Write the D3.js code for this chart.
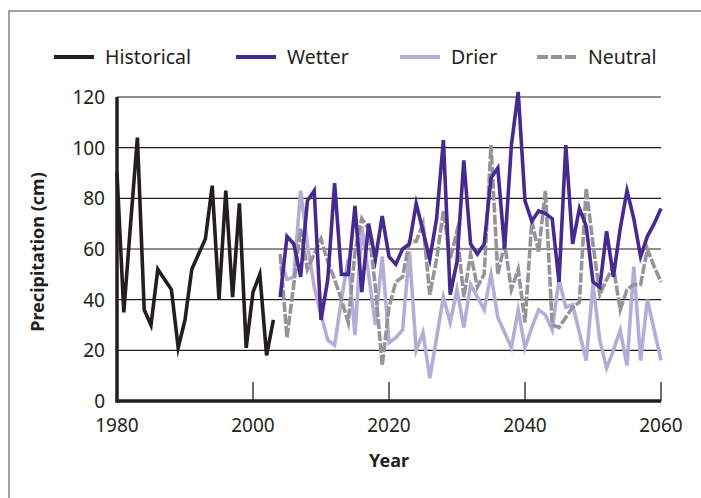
<!DOCTYPE html>
<html>
<head>
<meta charset="utf-8">
<script src="https://cdn.jsdelivr.net/npm/d3@7"></script>
<style>
body { margin: 0; background: #fff; }
svg text { font-family: "Noto Sans", sans-serif; fill: #231f20; }
</style>
</head>
<body>
<svg id="chart" width="701" height="498"></svg>
<script>
/* Precipitation: historical record and three future scenarios */

const historicalYears = d3.range(1980, 2004);
const historical = [90, 35, 70, 104, 36, 30, 52, 48, 44, 21, 32, 52, 58, 64, 85, 40, 83, 41, 78, 21, 43, 50, 18, 32];

const futureYears = d3.range(2004, 2061);
const wetter = [41, 65, 62, 49, 79, 83, 32, 48, 86, 50,
                50, 77, 43, 70, 56, 73, 57, 54, 60, 62,
                78, 67, 56, 72, 103, 42, 55, 95, 62, 58,
                62, 88, 92, 60, 101, 122, 79, 71, 75, 74,
                72, 47, 101, 62, 76, 69, 47, 45, 67, 49,
                68, 83, 72, 57, 65, 70, 76];
const drier = [56, 48, 49, 83, 62, 45, 34, 24, 22, 40,
               56, 26, 69, 50, 30, 57, 23, 25, 28, 59,
               20, 27, 9, 25, 41, 31, 44, 29, 46, 41,
               36, 50, 33, 27, 21, 36, 21, 29, 36, 34,
               28, 48, 37, 38, 27, 16, 46, 24, 13, 20,
               28, 14, 53, 16, 40, 28, 16];
const neutral = [58, 25, 46, 68, 52, 58, 64, 55, 48, 40,
                 31, 59, 72, 68, 45, 14, 37, 47, 49, 63,
                 63, 70, 42, 56, 75, 56, 67, 41, 58, 45,
                 50, 101, 50, 62, 44, 52, 31, 71, 59, 83,
                 30, 29, 33, 37, 39, 84, 62, 42, 48, 53,
                 36, 44, 46, 46, 60, 53, 47];

const xTicks = [1980, 2000, 2020, 2040, 2060];
const yTicks = [0, 20, 40, 60, 80, 100, 120];

const seriesNames = ["Historical", "Wetter", "Drier", "Neutral"];

const styles = {
    Historical: {color: "#231f20", dash: null},
    Wetter: {color: "#452a8f", dash: null},
    Drier: {color: "#b6acd8", dash: null},
    Neutral: {color: "#939598", dash: "10,2"}
};

const svg = d3.select("#chart");

const x = d3.scaleLinear().domain([1980, 2060]).range([117, 661]);
const y = d3.scaleLinear().domain([0, 120]).range([401, 97]);

// outer frame (cut off at right and bottom)
svg.append("rect")
    .attr("x", 9).attr("y", 11)
    .attr("width", 800).attr("height", 600)
    .attr("fill", "none")
    .attr("stroke", "#808285")
    .attr("stroke-width", 1.5);

// gridlines
svg.append("g").attr("class", "grid")
    .selectAll("line")
    .data(yTicks.filter(d => d > 0)).enter()
    .append("line")
    .attr("x1", x(1980)).attr("x2", x(2060))
    .attr("y1", d => y(d)).attr("y2", d => y(d))
    .attr("stroke", "#231f20")
    .attr("stroke-width", 1.1);

// x ticks, pointing up into the plot
svg.append("g")
    .selectAll("line")
    .data(xTicks.slice(1)).enter()
    .append("line")
    .attr("x1", d => x(d)).attr("x2", d => x(d))
    .attr("y1", y(0)).attr("y2", y(0) - 19)
    .attr("stroke", "#231f20")
    .attr("stroke-width", 1.3);

// tick labels
svg.append("g")
    .selectAll("text")
    .data(xTicks).enter()
    .append("text")
    .attr("x", d => x(d))
    .attr("y", 432)
    .attr("text-anchor", "middle")
    .attr("font-size", 19)
    .text(d => d);

svg.append("g")
    .selectAll("text")
    .data(yTicks).enter()
    .append("text")
    .attr("x", 105)
    .attr("y", d => y(d) + 7)
    .attr("text-anchor", "end")
    .attr("font-size", 19)
    .text(d => d);

// axis titles
svg.append("text")
    .attr("x", 389).attr("y", 467)
    .attr("text-anchor", "middle")
    .attr("font-size", 18)
    .attr("font-weight", "bold")
    .text("Year");

svg.append("text")
    .attr("transform", "translate(44,252) rotate(-90)")
    .attr("text-anchor", "middle")
    .attr("font-size", 18)
    .attr("font-weight", "bold")
    .text("Precipitation (cm)");

// data lines
const line = d3.line()
    .x(d => x(d[0]))
    .y(d => y(d[1]))
    .curve(d3.curveLinear);

function drawSeries(name, years, values) {
    svg.append("path")
        .datum(d3.zip(years, values))
        .attr("class", "series")
        .attr("d", line)
        .attr("fill", "none")
        .attr("stroke", styles[name].color)
        .attr("stroke-width", 3.6)
        .attr("stroke-linejoin", "miter")
        .attr("stroke-miterlimit", 6)
        .attr("stroke-dasharray", styles[name].dash);
}

drawSeries("Historical", historicalYears, historical);
drawSeries("Drier", futureYears, drier);
drawSeries("Neutral", futureYears, neutral);
drawSeries("Wetter", futureYears, wetter);

// axis lines on top
svg.append("line")
    .attr("x1", x(1980)).attr("x2", x(1980))
    .attr("y1", y(120)).attr("y2", y(0) + 1.5)
    .attr("stroke", "#231f20").attr("stroke-width", 3.5);
svg.append("line")
    .attr("x1", x(1980) - 1.5).attr("x2", x(2060))
    .attr("y1", y(0)).attr("y2", y(0))
    .attr("stroke", "#231f20").attr("stroke-width", 3.5);

// legend
const legendX = [54, 236, 400, 537];
const legend = svg.append("g").attr("class", "legend")
    .selectAll("g")
    .data(seriesNames).enter()
    .append("g")
    .attr("transform", (d, i) => `translate(${legendX[i]},57)`);

legend.append("line")
    .attr("x1", 0).attr("x2", 40)
    .attr("stroke", d => styles[d].color)
    .attr("stroke-width", 4)
    .attr("stroke-dasharray", d => d === "Neutral" ? "11,3" : null);

legend.append("text")
    .attr("x", 51)
    .attr("y", 7)
    .attr("font-size", 19.5)
    .text(d => d);
</script>
</body>
</html>
